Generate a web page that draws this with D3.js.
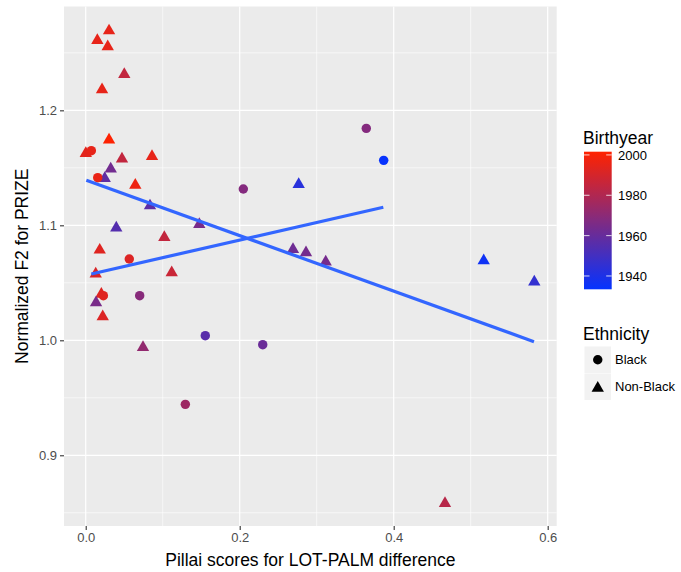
<!DOCTYPE html>
<html>
<head>
<meta charset="utf-8">
<script src="https://cdn.jsdelivr.net/npm/d3@7"></script>
<style>
  body { margin: 0; background: #fff; }
  svg { display: block; font-family: "Liberation Sans", Arial, Helvetica, sans-serif; }
</style>
</head>
<body>
<svg id="chart" width="681" height="572"></svg>
<script>
// ---- Data ----
// Black speakers (circles)
const blackPillai = [0.0073, 0.0156, 0.0566, 0.0229, 0.0701, 0.1553, 0.2299, 0.1294, 0.2047, 0.3644, 0.3870];
const blackF2     = [1.1649, 1.1414, 1.0707, 1.0388, 1.0388, 1.0040, 0.9962, 0.9443, 1.1316, 1.1843, 1.1565];
const blackYear   = [1995, 1996, 1992, 1993, 1969, 1956, 1961, 1975, 1968, 1968, 1934];

// Non-Black speakers (triangles)
const nonBlackPillai = [0.0001, 0.0303, 0.0151, 0.0286, 0.0501, 0.0212, 0.0303, 0.0471, 0.0861, 0.0325,
                        0.0247, 0.0644, 0.0835, 0.0397, 0.1021, 0.0182, 0.1117, 0.0130, 0.0203, 0.0134,
                        0.0221, 0.0744, 0.2766, 0.2692, 0.2861, 0.3117, 0.1475, 0.4666, 0.5169, 0.5826];
const nonBlackF2     = [1.1625, 1.2692, 1.2608, 1.2553, 1.2312, 1.2179, 1.1742, 1.1577, 1.1599, 1.1490,
                        1.1408, 1.1350, 1.1170, 1.0977, 1.0895, 1.0785, 1.0588, 1.0577, 1.0401, 1.0327,
                        1.0205, 0.9938, 1.1356, 1.0790, 1.0762, 1.0681, 1.1008, 0.8582, 1.0692, 1.0507];
const nonBlackYear   = [1994, 1995, 1995, 1995, 1985, 1995, 2001, 1985, 1995, 1963,
                        1958, 1997, 1957, 1955, 1985, 1993, 1987, 1991, 1993, 1965,
                        1992, 1972, 1943, 1962, 1964, 1964, 1965, 1982, 1936, 1946];

// Linear fits (geom_smooth, method = lm) endpoints
const fitBlackX    = [0.0073, 0.3865];
const fitBlackY    = [1.0577, 1.1157];
const fitNonBlackX = [0.0008, 0.5822];
const fitNonBlackY = [1.1391, 0.9988];

const xTicks = [0.0, 0.2, 0.4, 0.6];
const yTicks = [0.9, 1.0, 1.1, 1.2];
const xMinor = [-0.1, 0.1, 0.3, 0.5];
const yMinor = [0.85, 0.95, 1.05, 1.15, 1.25];
const yearTicks = [1940, 1960, 1980, 2000];
const yearLimits = [1933.4, 2001.6];
const ethnicities = ["Black", "Non-Black"];

// ---- Layout ----
const svg = d3.select("#chart");
const panel = { left: 64, right: 556.7, top: 6.5, bottom: 526 };
const titleSize = "17.5px";
const labelSize = "13px";

const x = d3.scaleLinear().domain([-0.0282, 0.6117]).range([panel.left, panel.right]);
const y = d3.scaleLinear().domain([0.8385, 1.2903]).range([panel.bottom, panel.top]);
const color = d3.scaleLinear().domain(yearLimits).range(["#0533FF", "#FF2200"]).interpolate(d3.interpolateRgb);

// Panel background
svg.append("rect")
  .attr("x", panel.left).attr("y", panel.top)
  .attr("width", panel.right - panel.left).attr("height", panel.bottom - panel.top)
  .attr("fill", "#EBEBEB");

const grid = svg.append("g");
// minor grid
grid.selectAll(".vminor").data(xMinor.filter(d => x(d) > panel.left && x(d) < panel.right)).enter()
  .append("line").attr("x1", d => x(d)).attr("x2", d => x(d))
  .attr("y1", panel.top).attr("y2", panel.bottom)
  .attr("stroke", "#fff").attr("stroke-width", 0.6);
grid.selectAll(".hminor").data(yMinor.filter(d => y(d) > panel.top && y(d) < panel.bottom)).enter()
  .append("line").attr("y1", d => y(d)).attr("y2", d => y(d))
  .attr("x1", panel.left).attr("x2", panel.right)
  .attr("stroke", "#fff").attr("stroke-width", 0.6);
// major grid
grid.selectAll(".vmajor").data(xTicks).enter()
  .append("line").attr("x1", d => x(d)).attr("x2", d => x(d))
  .attr("y1", panel.top).attr("y2", panel.bottom)
  .attr("stroke", "#fff").attr("stroke-width", 1.2);
grid.selectAll(".hmajor").data(yTicks).enter()
  .append("line").attr("y1", d => y(d)).attr("y2", d => y(d))
  .attr("x1", panel.left).attr("x2", panel.right)
  .attr("stroke", "#fff").attr("stroke-width", 1.2);

// Axes
const xAxis = d3.axisBottom(x).tickValues(xTicks).tickFormat(d3.format(".1f")).tickSize(4).tickPadding(3);
const yAxis = d3.axisLeft(y).tickValues(yTicks).tickFormat(d3.format(".1f")).tickSize(4).tickPadding(3);

const gx = svg.append("g").attr("transform", `translate(0,${panel.bottom})`).call(xAxis);
const gy = svg.append("g").attr("transform", `translate(${panel.left},0)`).call(yAxis);
[gx, gy].forEach(g => {
  g.select(".domain").remove();
  g.selectAll(".tick line").attr("stroke", "#333333").attr("stroke-width", 1.1);
  g.selectAll(".tick text").attr("fill", "#4D4D4D").style("font-size", labelSize)
    .style("font-family", "'Liberation Sans', Arial, sans-serif");
});

// Axis titles
svg.append("text")
  .attr("x", (panel.left + panel.right) / 2).attr("y", 566)
  .attr("text-anchor", "middle").style("font-size", titleSize).attr("fill", "#000")
  .text("Pillai scores for LOT-PALM difference");
svg.append("text")
  .attr("transform", `translate(28,${(panel.top + panel.bottom) / 2}) rotate(-90)`)
  .attr("text-anchor", "middle").style("font-size", titleSize).attr("fill", "#000")
  .text("Normalized F2 for PRIZE");

// Points
const blackData = blackPillai.map((v, i) => ({ x: v, y: blackF2[i], year: blackYear[i] }));
const nonBlackData = nonBlackPillai.map((v, i) => ({ x: v, y: nonBlackF2[i], year: nonBlackYear[i] }));

const circleSym = d3.symbol().type(d3.symbolCircle).size(70);
const triSym = d3.symbol().type(d3.symbolTriangle).size(66);

const pts = svg.append("g");
pts.selectAll(".tri").data(nonBlackData).enter().append("path")
  .attr("d", triSym)
  .attr("transform", d => `translate(${x(d.x)},${y(d.y)})`)
  .attr("fill", d => color(d.year));
pts.selectAll(".circ").data(blackData).enter().append("path")
  .attr("d", circleSym)
  .attr("transform", d => `translate(${x(d.x)},${y(d.y)})`)
  .attr("fill", d => color(d.year));

// Fit lines
const line = d3.line().x(d => x(d[0])).y(d => y(d[1]));
svg.append("path").datum(fitBlackX.map((v, i) => [v, fitBlackY[i]]))
  .attr("d", line).attr("fill", "none").attr("stroke", "#3366FF").attr("stroke-width", 3.2);
svg.append("path").datum(fitNonBlackX.map((v, i) => [v, fitNonBlackY[i]]))
  .attr("d", line).attr("fill", "none").attr("stroke", "#3366FF").attr("stroke-width", 3.2);

// ---- Legend: Birthyear colourbar ----
const leg = svg.append("g");
leg.append("text").attr("x", 583).attr("y", 143.5).style("font-size", titleSize).attr("fill", "#000").text("Birthyear");

const bar = { x: 584, w: 27.7, top: 151.7, bottom: 289.3 };
const yBar = d3.scaleLinear().domain(yearLimits).range([bar.bottom, bar.top]);
const defs = svg.append("defs");
const grad = defs.append("linearGradient").attr("id", "yeargrad")
  .attr("x1", 0).attr("y1", 1).attr("x2", 0).attr("y2", 0);
d3.range(0, 21).forEach(i => {
  const t = i / 20;
  grad.append("stop").attr("offset", t)
    .attr("stop-color", color(yearLimits[0] + t * (yearLimits[1] - yearLimits[0])));
});
leg.append("rect").attr("x", bar.x).attr("y", bar.top).attr("width", bar.w)
  .attr("height", bar.bottom - bar.top).attr("fill", "url(#yeargrad)");
yearTicks.forEach(t => {
  const yy = yBar(t);
  leg.append("line").attr("x1", bar.x).attr("x2", bar.x + 5.5).attr("y1", yy).attr("y2", yy)
    .attr("stroke", "#fff").attr("stroke-opacity", 0.8).attr("stroke-width", 1);
  leg.append("line").attr("x1", bar.x + bar.w - 5.5).attr("x2", bar.x + bar.w).attr("y1", yy).attr("y2", yy)
    .attr("stroke", "#fff").attr("stroke-opacity", 0.8).attr("stroke-width", 1);
  leg.append("text").attr("x", 618).attr("y", yy).attr("dy", "0.38em")
    .style("font-size", labelSize).attr("fill", "#000").text(t);
});

// ---- Legend: Ethnicity ----
leg.append("text").attr("x", 583).attr("y", 340).style("font-size", titleSize).attr("fill", "#000").text("Ethnicity");
const keySize = 26.5;
ethnicities.forEach((e, i) => {
  const ky = 346.5 + i * (keySize + 0.5);
  leg.append("rect").attr("x", 584.5).attr("y", ky).attr("width", keySize).attr("height", keySize)
    .attr("fill", "#F2F2F2");
  const sym = i === 0 ? circleSym : triSym;
  leg.append("path").attr("d", sym)
    .attr("transform", `translate(${584.5 + keySize / 2},${ky + keySize / 2 + (i === 1 ? 1.5 : 0)})`)
    .attr("fill", "#000");
  leg.append("text").attr("x", 615).attr("y", ky + keySize / 2).attr("dy", "0.36em")
    .style("font-size", labelSize).attr("fill", "#000").text(e);
});
</script>
</body>
</html>
